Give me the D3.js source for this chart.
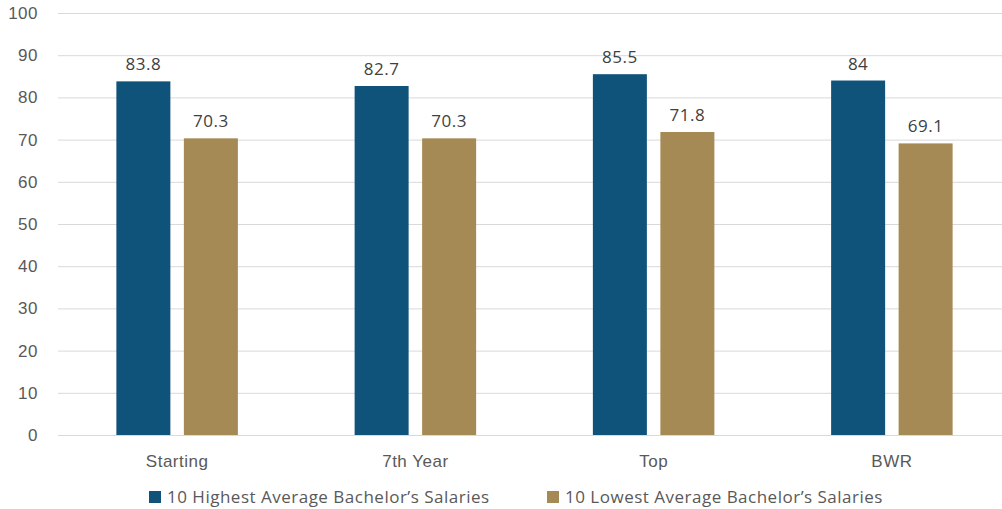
<!DOCTYPE html>
<html>
<head>
<meta charset="utf-8">
<script src="https://cdn.jsdelivr.net/npm/d3@7"></script>
<style>
  html, body { margin: 0; padding: 0; background: #fff; }
  svg { display: block; font-family: "Open Sans", Lato, sans-serif; letter-spacing: 0.5px; }
</style>
</head>
<body>
<svg id="chart" width="1002" height="509"></svg>
<script>
// Salary-rank categories and the two series compared in each
const categories = ["Starting", "7th Year", "Top", "BWR"];
const seriesNames = ["10 Highest Average Bachelor\u2019s Salaries", "10 Lowest Average Bachelor\u2019s Salaries"];
const highest = [83.8, 82.7, 85.5, 84];
const lowest = [70.3, 70.3, 71.8, 69.1];
const yTicks = [0, 10, 20, 30, 40, 50, 60, 70, 80, 90, 100];
const colors = ["#10537A", "#A68A55"];

const svg = d3.select("#chart");
const plotLeft = 58, plotRight = 1011, plotTop = 13, plotBottom = 435;
const fontSize = 17;

const y = d3.scaleLinear().domain([0, 100]).range([plotBottom, plotTop]);
const x0 = d3.scaleBand().domain(categories).range([plotLeft, plotRight])
  .paddingInner(0.49).paddingOuter(0.245);
const x1 = d3.scaleBand().domain([0, 1]).range([0, x0.bandwidth()]).paddingInner(0.2);

// gridlines
const yAxis = d3.axisLeft(y).tickValues(yTicks).tickSize(-(1002 - plotLeft)).tickPadding(20);
const gy = svg.append("g").attr("transform", `translate(${plotLeft},0)`).call(yAxis);
gy.select(".domain").remove();
gy.selectAll(".tick line").attr("stroke", "#d9d9d9").attr("stroke-width", 1);
gy.selectAll(".tick text").attr("fill", "#595959").attr("font-size", fontSize);

// x labels
const xAxis = d3.axisBottom(x0).tickSize(0).tickPadding(20);
const gx = svg.append("g").attr("transform", `translate(0,${plotBottom})`).call(xAxis);
gx.select(".domain").remove();
gx.selectAll(".tick text").attr("fill", "#595959").attr("font-size", fontSize);

const rows = categories.map((c, i) => ({ cat: c, vals: [highest[i], lowest[i]] }));

const groups = svg.append("g").selectAll("g").data(rows).join("g")
  .attr("transform", d => `translate(${x0(d.cat)},0)`);

groups.selectAll("rect").data(d => d.vals.map((v, k) => ({ v, k }))).join("rect")
  .attr("x", d => x1(d.k))
  .attr("y", d => y(d.v))
  .attr("width", x1.bandwidth())
  .attr("height", d => y(0) - y(d.v))
  .attr("fill", d => colors[d.k]);

groups.selectAll("text").data(d => d.vals.map((v, k) => ({ v, k }))).join("text")
  .attr("x", d => x1(d.k) + x1.bandwidth() / 2)
  .attr("y", d => y(d.v) - 11)
  .attr("text-anchor", "middle")
  .attr("fill", "#404040")
  .attr("font-size", fontSize)
  .text(d => d.v);

// legend
const legendX = [149, 547];
const lg = svg.append("g").selectAll("g").data(seriesNames).join("g")
  .attr("transform", (d, i) => `translate(${legendX[i]},491)`);
lg.append("rect").attr("width", 12).attr("height", 12).attr("fill", (d, i) => colors[i]);
lg.append("text").attr("x", 18).attr("y", 11.5).attr("fill", "#595959")
  .attr("font-size", fontSize).text(d => d);
</script>
</body>
</html>
